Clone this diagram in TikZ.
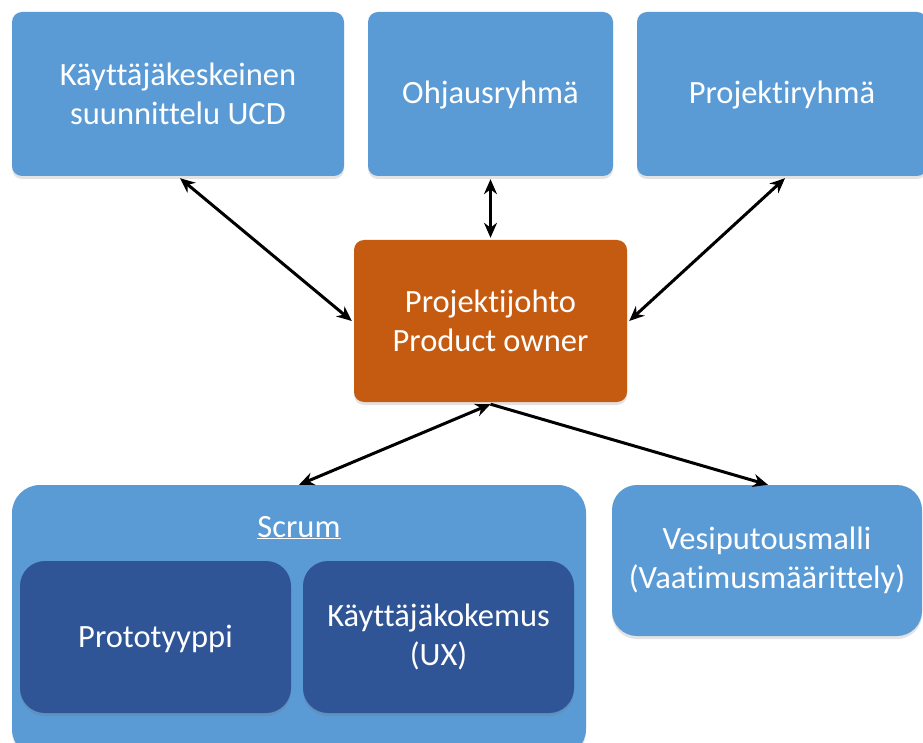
\documentclass[tikz,border=0pt]{standalone}
\usepackage{fontspec}
\setmainfont{Carlito}[Ligatures=NoCommon]
\usetikzlibrary{arrows.meta,shadows}
\definecolor{boxblue}{HTML}{5B9BD5}
\definecolor{deepblue}{HTML}{2F5597}
\definecolor{leadorange}{HTML}{C55A11}
% single-line label: baseline placed 10pt below the node centre
\newcommand{\oneline}[1]{\raisebox{-10pt}[0pt][0pt]{#1}}
\tikzset{
  card/.style={rectangle, rounded corners=#1, fill=boxblue, draw=none,
    text=white, align=center, inner sep=0pt,
    drop shadow={shadow xshift=0pt, shadow yshift=-3pt, opacity=0.18, fill=black!60},
    font=\fontsize{32.5}{39}\selectfont},
  card/.default=10pt,
  link/.style={line width=3pt, black, {Stealth[length=15pt,width=13pt]}-{Stealth[length=15pt,width=13pt]}},
  oneway/.style={line width=3pt, black, -{Stealth[length=15pt,width=13pt]}}
}
\begin{document}
\begin{tikzpicture}[x=1pt,y=-1pt]
\useasboundingbox (0,0) rectangle (923,743);
\fill[white] (0,0) rectangle (923,743);

% top row
\node[card, minimum width=332pt, minimum height=164pt] (ucd) at (178,94)
  {Käyttäjäkeskeinen\\suunnittelu UCD};
\node[card, minimum width=245pt, minimum height=164pt] (ohj) at (490.5,94)
  {\oneline{Ohjausryhmä}};
\node[card, minimum width=290pt, minimum height=164pt] (proj) at (782,94)
  {\oneline{Projektiryhmä}};

% project lead
\node[card, fill=leadorange, minimum width=273pt, minimum height=162pt] (po) at (490.5,321)
  {Projektijohto\\Product owner};

% scrum group
\node[card=28pt, minimum width=574pt, minimum height=272pt] (scrum) at (299,621) {};
\node[text=white, inner sep=0pt, font=\fontsize{32.5}{39}\selectfont] (scrumlabel) at (299,527) {\oneline{\underline{Scrum}}};
\node[card=25pt, fill=deepblue, drop shadow={opacity=0}, minimum width=271pt, minimum height=152pt] (proto) at (155.5,637)
  {\oneline{Prototyyppi}};
\node[card=25pt, fill=deepblue, drop shadow={opacity=0}, minimum width=271pt, minimum height=152pt] (ux) at (438.5,637)
  {Käyttäjäkokemus\\(UX)};

% waterfall
\node[card=25pt, minimum width=310pt, minimum height=151pt] (vesi) at (767,560.5)
  {Vesiputousmalli\\(Vaatimusmäärittely)};

% connectors
\draw[link] ([xshift=2pt,yshift=-2pt]ucd.south) -- ([xshift=-2pt]po.west);
\draw[link] ([yshift=-3pt]ohj.south) -- ([yshift=2pt]po.north);
\draw[link] ([xshift=3pt,yshift=-2pt]proj.south) -- ([xshift=2pt]po.east);
\draw[link] ([yshift=-2pt]po.south) -- (scrum.north);
\draw[oneway] ([yshift=-2pt]po.south) -- ([xshift=1pt]vesi.north);
\end{tikzpicture}
\end{document}
